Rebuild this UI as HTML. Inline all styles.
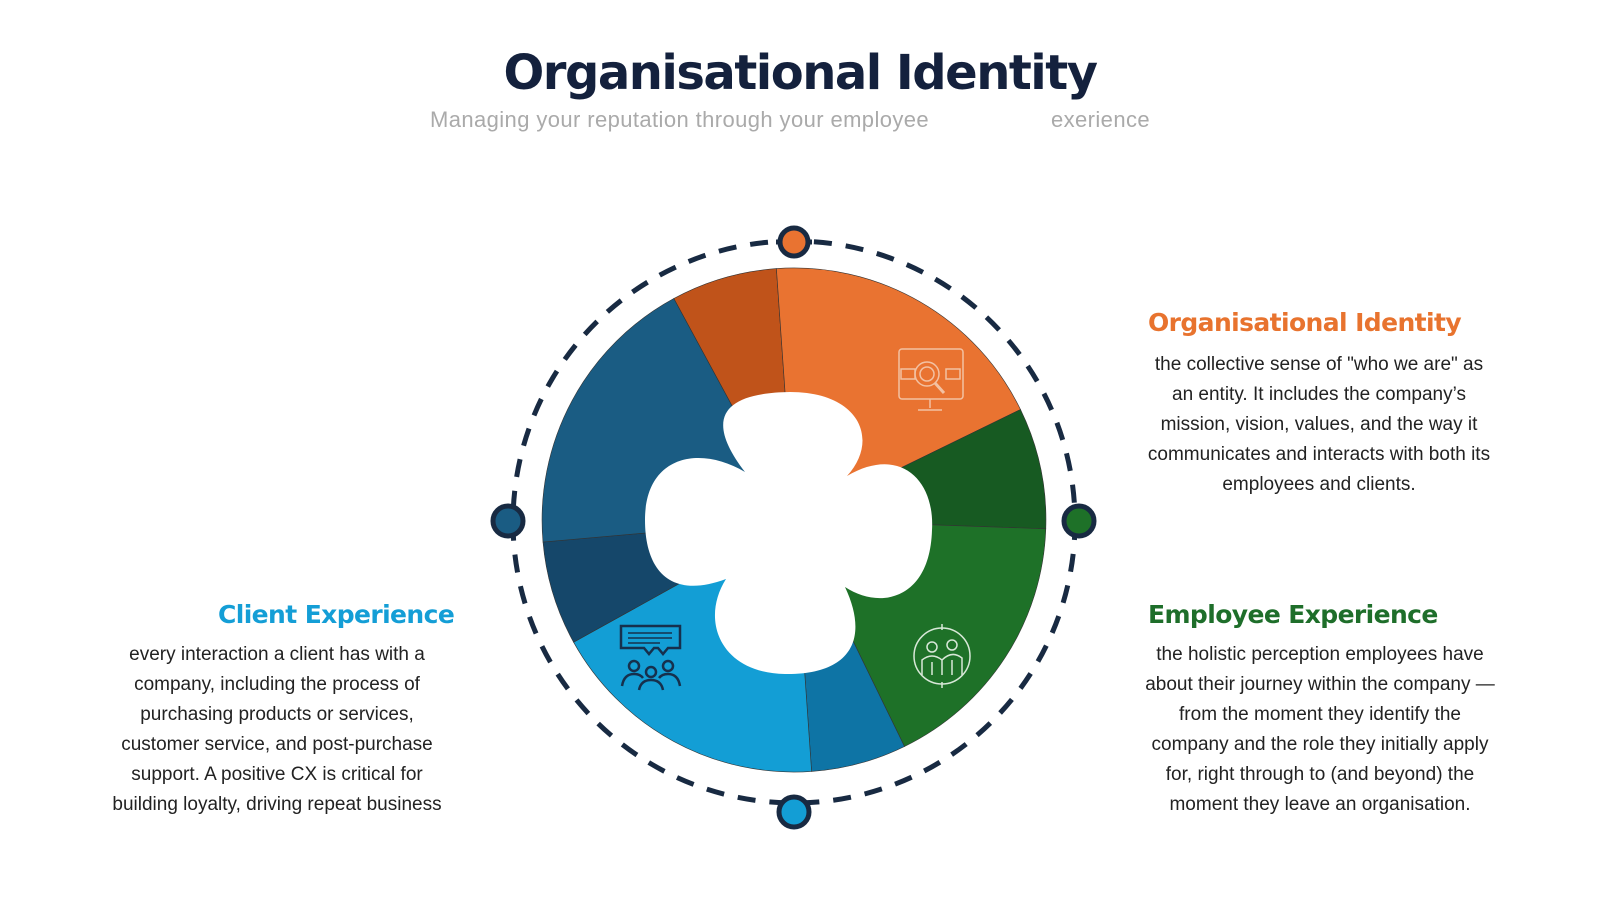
<!DOCTYPE html>
<html><head><meta charset="utf-8"><style>
body{margin:0;width:1600px;height:900px;background:#fff;overflow:hidden;position:relative;font-family:"Liberation Sans",sans-serif}
.t{position:absolute;white-space:nowrap}
h1{position:absolute;left:0;width:1600px;top:45px;margin:0;text-align:center;font:bold 48px "DejaVu Sans","Liberation Sans",sans-serif;color:#14213d;letter-spacing:-1.5px}
.sub{top:107px;font-size:22px;color:#aaa;letter-spacing:0.4px}
.hd{font:bold 25px "DejaVu Sans","Liberation Sans",sans-serif;letter-spacing:-0.6px}
.body{font-size:19px;line-height:30px;color:#222;text-align:center;white-space:normal}
</style></head><body>
<h1>Organisational Identity</h1>
<div class="t sub" style="left:430px">Managing your reputation through your employee</div>
<div class="t sub" style="left:1051px">exerience</div>

<svg width="1600" height="900" style="position:absolute;left:0;top:0">
<circle cx="794" cy="522" r="281" fill="none" stroke="#182a42" stroke-width="5" stroke-dasharray="18 14"/>
<g stroke="#333" stroke-width="0.6">
<path d="M794 520 L673.8 298.5 A252 252 0 0 1 776.4 268.6 Z" fill="#c0531a"/>
<path d="M794 520 L776.4 268.6 A252 252 0 0 1 1020.5 409.5 Z" fill="#e97331"/>
<path d="M794 520 L1020.5 409.5 A252 252 0 0 1 1045.8 528.8 Z" fill="#175a22"/>
<path d="M794 520 L1045.8 528.8 A252 252 0 0 1 904.5 746.5 Z" fill="#1e7128"/>
<path d="M794 520 L904.5 746.5 A252 252 0 0 1 811.6 771.4 Z" fill="#0e74a5"/>
<path d="M794 520 L811.6 771.4 A252 252 0 0 1 573.6 642.2 Z" fill="#139ed5"/>
<path d="M794 520 L573.6 642.2 A252 252 0 0 1 543 542 Z" fill="#15476a"/>
<path d="M794 520 L543 542 A252 252 0 0 1 673.8 298.5 Z" fill="#1a5c83"/>
</g>
<path d="M745,472 C705,420 720,393 790,392 C860,392 880,440 847,476 C900,445 935,480 932,530 C930,600 880,610 845,587 C870,640 850,675 785,674 C720,673 700,620 726,579 C670,600 645,570 645,520 C645,455 700,445 745,472 Z" fill="#fff"/>
<g stroke="#182a42" stroke-width="5">
<line x1="776" y1="242" x2="812" y2="242"/>
<circle cx="794" cy="242" r="14" fill="#e97331"/>
<circle cx="508" cy="521" r="15" fill="#1a5c83"/>
<circle cx="1079" cy="521" r="15" fill="#1e7128"/>
<circle cx="794" cy="812" r="15" fill="#139ed5"/>
</g>
<g fill="none" stroke="#f3c1a2" stroke-width="1.5">
<rect x="899" y="349" width="64" height="50" rx="3"/>
<line x1="930" y1="399" x2="930" y2="408"/><line x1="918" y1="410" x2="942" y2="410"/>
<rect x="901" y="369" width="14" height="10"/><rect x="946" y="369" width="14" height="10"/>
<circle cx="927" cy="374" r="12"/><circle cx="927" cy="374" r="7"/>
<line x1="935" y1="383" x2="944" y2="393" stroke-width="3"/>
</g>
<g fill="none" stroke="#d8e8d8" stroke-width="1.5">
<circle cx="942" cy="656" r="28"/>
<line x1="942" y1="624" x2="942" y2="630"/><line x1="942" y1="682" x2="942" y2="688"/>
<circle cx="932" cy="647" r="5"/><circle cx="952" cy="645" r="5"/>
<path d="M922 675 V660 Q932 652 942 660 V675 M942 660 Q952 650 962 658 V675 M932 662 V675 M952 660 V675"/>
</g>
<g fill="none" stroke="#16304d" stroke-width="2.5">
<path d="M621 626 H680 V648 H668 L663 654 L658 648 H654 L649 654 L644 648 H621 Z"/>
<line x1="628" y1="633" x2="672" y2="633" stroke-width="1.5"/><line x1="628" y1="638" x2="672" y2="638" stroke-width="1.5"/><line x1="628" y1="643" x2="660" y2="643" stroke-width="1.5"/>
<circle cx="634" cy="666" r="5"/><circle cx="651" cy="672" r="5"/><circle cx="668" cy="666" r="5"/>
<path d="M622 686 Q624 674 634 674 Q640 674 643 678 M680 686 Q678 674 668 674 Q662 674 659 678 M639 690 Q641 680 651 680 Q661 680 663 690"/>
</g>
</svg>

<div class="t hd" style="left:1148px;top:308px;color:#e8732e">Organisational Identity</div>
<div class="t body" style="left:1139px;top:350px;width:360px">the collective sense of "who we are" as<br>an entity. It includes the company’s<br>mission, vision, values, and the way it<br>communicates and interacts with both its<br>employees and clients.</div>

<div class="t hd" style="left:1148px;top:600px;color:#1e6e2a">Employee Experience</div>
<div class="t body" style="left:1134px;top:640px;width:372px">the holistic perception employees have<br>about their journey within the company —<br>from the moment they identify the<br>company and the role they initially apply<br>for, right through to (and beyond) the<br>moment they leave an organisation.</div>

<div class="t hd" style="left:218px;top:600px;color:#149ed6">Client Experience</div>
<div class="t body" style="left:97px;top:640px;width:360px">every interaction a client has with a<br>company, including the process of<br>purchasing products or services,<br>customer service, and post-purchase<br>support. A positive CX is critical for<br>building loyalty, driving repeat business</div>
</body></html>
